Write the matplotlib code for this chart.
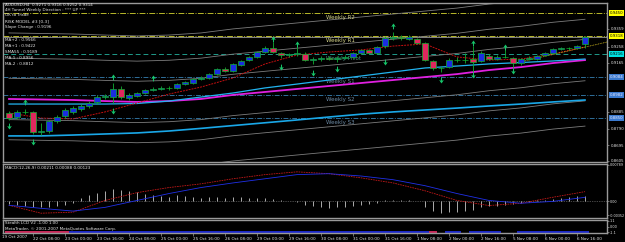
import matplotlib
matplotlib.use("Agg")
import matplotlib.pyplot as plt
import matplotlib.transforms as mtransforms
from matplotlib.path import Path

# ---------------- data ----------------
opens = [0.8879, 0.8856, 0.8885, 0.8882, 0.8770, 0.8776, 0.8833, 0.8862, 0.8885, 0.8902,
         0.8919, 0.8942, 0.8970, 0.8970, 0.9016, 0.8964, 0.8976, 0.8993, 0.9010, 0.9016,
         0.9022, 0.9022, 0.9044, 0.9050, 0.9073, 0.9079, 0.9101, 0.9130, 0.9119, 0.9153,
         0.9181, 0.9199, 0.9227, 0.9250, 0.9221, 0.9210, 0.9213, 0.9216, 0.9181, 0.9187,
         0.9193, 0.9190, 0.9193, 0.9199, 0.9221, 0.9239, 0.9221, 0.9261, 0.9307, 0.9310,
         0.9301, 0.9301, 0.9278, 0.9176, 0.9136, 0.9141, 0.9181, 0.9184, 0.9187, 0.9176,
         0.9204, 0.9187, 0.9199, 0.9193, 0.9164, 0.9187, 0.9187, 0.9210, 0.9221, 0.9244,
         0.9250, 0.9250, 0.9271]
highs = [0.8890, 0.8896, 0.8902, 0.8890, 0.8822, 0.8839, 0.8867, 0.8907, 0.8919, 0.8930,
         0.8947, 0.8982, 0.8987, 0.9050, 0.9033, 0.8993, 0.8999, 0.9016, 0.9027, 0.9033,
         0.9033, 0.9050, 0.9061, 0.9079, 0.9090, 0.9107, 0.9136, 0.9141, 0.9164, 0.9181,
         0.9204, 0.9233, 0.9261, 0.9284, 0.9227, 0.9221, 0.9267, 0.9227, 0.9199, 0.9204,
         0.9204, 0.9204, 0.9210, 0.9227, 0.9244, 0.9244, 0.9261, 0.9318, 0.9341, 0.9324,
         0.9324, 0.9307, 0.9284, 0.9181, 0.9147, 0.9193, 0.9199, 0.9221, 0.9261, 0.9233,
         0.9216, 0.9210, 0.9250, 0.9199, 0.9193, 0.9204, 0.9210, 0.9227, 0.9250, 0.9256,
         0.9256, 0.9267, 0.9316]
lows = [0.8839, 0.8845, 0.8873, 0.8759, 0.8753, 0.8765, 0.8822, 0.8850, 0.8873, 0.8890,
        0.8907, 0.8930, 0.8959, 0.8936, 0.8959, 0.8953, 0.8970, 0.8987, 0.9004, 0.9010,
        0.9010, 0.9016, 0.9039, 0.9044, 0.9067, 0.9073, 0.9096, 0.9113, 0.9113, 0.9147,
        0.9176, 0.9193, 0.9221, 0.9221, 0.9193, 0.9199, 0.9204, 0.9176, 0.9159, 0.9176,
        0.9181, 0.9170, 0.9187, 0.9193, 0.9216, 0.9216, 0.9216, 0.9250, 0.9296, 0.9296,
        0.9296, 0.9273, 0.9176, 0.9124, 0.9113, 0.9136, 0.9170, 0.9164, 0.9113, 0.9170,
        0.9181, 0.9181, 0.9193, 0.9136, 0.9153, 0.9181, 0.9181, 0.9204, 0.9216, 0.9239,
        0.9239, 0.9244, 0.9252]
closes = [0.8850, 0.8885, 0.8882, 0.8770, 0.8776, 0.8833, 0.8856, 0.8896, 0.8907, 0.8919,
          0.8936, 0.8970, 0.8976, 0.9016, 0.8970, 0.8982, 0.8993, 0.9010, 0.9016, 0.9022,
          0.9020, 0.9044, 0.9056, 0.9073, 0.9079, 0.9101, 0.9130, 0.9119, 0.9159, 0.9176,
          0.9199, 0.9227, 0.9250, 0.9227, 0.9210, 0.9213, 0.9221, 0.9181, 0.9187, 0.9193,
          0.9190, 0.9193, 0.9199, 0.9221, 0.9239, 0.9221, 0.9256, 0.9307, 0.9310, 0.9307,
          0.9313, 0.9278, 0.9181, 0.9136, 0.9138, 0.9181, 0.9184, 0.9181, 0.9170, 0.9221,
          0.9187, 0.9199, 0.9201, 0.9164, 0.9187, 0.9193, 0.9204, 0.9221, 0.9244, 0.9250,
          0.9248, 0.9261, 0.9314]

# moving averages sampled every 4 bars
ma_idx = [0, 4, 8, 12, 16, 20, 24, 28, 32, 36, 40, 44, 48, 52, 56, 60, 64, 68, 72]
ma_red = [0.8879, 0.8850, 0.8845, 0.8885, 0.8936, 0.8987, 0.9027, 0.9079, 0.9159, 0.9210,
          0.9227, 0.9239, 0.9261, 0.9273, 0.9199, 0.9181, 0.9187, 0.9216, 0.9256]
sma55 = [0.8959, 0.8956, 0.8953, 0.8947, 0.8942, 0.8947, 0.8959, 0.8982, 0.8999, 0.9016,
         0.9033, 0.9050, 0.9067, 0.9084, 0.9101, 0.9124, 0.9141, 0.9164, 0.9181]
ma_cyan = [0.8930, 0.8930, 0.8930, 0.8930, 0.8933, 0.8947, 0.8970, 0.8993, 0.9022, 0.9044,
           0.9067, 0.9090, 0.9113, 0.9136, 0.9147, 0.9159, 0.9167, 0.9176, 0.9187]
ma_lower = [0.8748, 0.8748, 0.8753, 0.8759, 0.8765, 0.8776, 0.8791, 0.8807, 0.8823, 0.8839,
            0.8856, 0.8872, 0.8885, 0.8896, 0.8907, 0.8919, 0.8930, 0.8942, 0.8953]
# envelope offsets around SMA55 (MA+2, MA+1, half bands, MA-1, MA-2)
env_offsets = [0.0377, 0.0233, 0.0118, -0.0118, -0.0233, -0.0377]

# weekly pivots
pivot_names = ["Weekly R2", "Weekly R1", "Weekly Pivot", "Weekly S1", "Weekly S2", "Weekly S3"]
pivot_values = [0.9450, 0.9318, 0.9216, 0.9084, 0.8982, 0.8850]
pivot_labels = ["0.9450", "0.9318", "0.9216", "0.9084", "0.8982", "0.8850"]

# fractal arrows
frac_up_idx = [2, 13, 18, 33, 36, 48, 58, 62]
frac_up_price = [0.8942, 0.9084, 0.9079, 0.9301, 0.9273, 0.9376, 0.9278, 0.9256]
frac_dn_idx = [0, 3, 13, 34, 38, 41, 47, 54, 58, 63]
frac_dn_price = [0.8805, 0.8713, 0.8890, 0.9141, 0.9107, 0.9130, 0.9170, 0.9067, 0.9096, 0.9119]

# trend line (anchor points)
trend_idx = [63.9, 74.75]
trend_price = [0.9170, 0.9284]

# price axis ticks
price_ticks = [0.9359, 0.9258, 0.9165, 0.8885, 0.8790, 0.8695, 0.8605]

# MACD
macd_main = [-0.00085, -0.00256, -0.00234, 0.0002, 0.0019, 0.0030, 0.0038, 0.0049, 0.0058, 0.0064,
             0.0060, 0.0051, 0.0040, 0.0023, 0.0002, -0.0009, -0.0004, 0.0009, 0.00211]
macd_signal = [-0.00085, -0.0015, -0.0021, -0.0013, 0.0002, 0.0017, 0.0030, 0.0040, 0.0049, 0.0058,
               0.0060, 0.0055, 0.0047, 0.0034, 0.0017, 0.0002, -0.0004, 0.0000, 0.00088]
macd_hist = [-0.0006, -0.0008, -0.0010, -0.0012, -0.0013, -0.0012, -0.0010, -0.0008, -0.0004,
             0.0008, 0.0014, 0.0019, 0.0023, 0.0027, 0.0024, 0.0023, 0.0020, 0.0016, 0.0014,
             0.0011, 0.0009, 0.0013, 0.0011, 0.0009,
             0.0008, 0.0009, 0.0010, 0.0008, 0.0009, 0.0009, 0.0008, 0.0008, 0.0008, 0.0005,
             0.0002, 0.0000,
             -0.0002, -0.0008, -0.0011, -0.0013, -0.0014, -0.0013, -0.0012, -0.0010, -0.0008,
             -0.0006, -0.0003,
             0.0002, 0.0003, 0.0003, 0.0002, 0.0000,
             -0.0012, -0.0020, -0.0025, -0.0024, -0.0023, -0.0021, -0.0019,
             -0.0013, -0.0011, -0.0009, -0.0007, -0.0006, -0.0003, -0.0001, 0.0002, 0.0004,
             0.0006, 0.0008, 0.0009, 0.0011, 0.00123]

# Stealth LCD state per bar
lcd_state = [-1] * 8 + [1] * 45 + [-1, 0, 1, 1, 0, 1, 1, 1, 1, 0, 0] + [1] * 9

# time axis
time_first = "19 Oct 2007"
time_labels = ["22 Oct 08:00", "23 Oct 00:00", "23 Oct 16:00", "24 Oct 08:00", "25 Oct 00:00",
               "25 Oct 16:00", "26 Oct 08:00", "29 Oct 00:00", "29 Oct 16:00", "30 Oct 08:00",
               "31 Oct 00:00", "31 Oct 16:00", "1 Nov 08:00", "2 Nov 00:00", "2 Nov 16:00",
               "5 Nov 08:00", "6 Nov 00:00", "6 Nov 16:00"]
time_idx = [3, 7, 11, 15, 19, 23, 27, 31, 35, 39, 43, 47, 51, 55, 59, 63, 67, 71]

info_lines = ["AUDUSD,H4  0.9271 0.9316 0.9252 0.9314",
              "4H Tunnel Weekly Direction : *** UP ***",
              "OK to Trade",
              "RISK MODEL #3 [0-3]",
              "Slope Change : 0.9196",
              "MA+2 : 0.9566",
              "MA+1 : 0.9422",
              "SMA55 : 0.9189",
              "MA-1 : 0.8956",
              "MA-2 : 0.8812"]

# ---------------- figure ----------------
W, H = 625, 242
fig = plt.figure(figsize=(6.25, 2.42), dpi=100, facecolor="black")


def box(x0, y0, x1, y1):
    return [x0 / W, 1 - y1 / H, (x1 - x0) / W, (y1 - y0) / H]


ax = fig.add_axes(box(3, 3, 607, 162))
axm = fig.add_axes(box(3, 164, 607, 218), sharex=ax)
axs = fig.add_axes(box(3, 220, 607, 233), sharex=ax)

FRAME = "#9a9a9a"
TXT = "#e6e6e6"
for a in (ax, axm, axs):
    a.set_facecolor("black")
    for s in a.spines.values():
        s.set_color(FRAME)
        s.set_linewidth(1.0)
    a.tick_params(axis="x", which="both", bottom=False, labelbottom=False)
    a.yaxis.tick_right()
    a.tick_params(axis="y", colors=FRAME, labelcolor=TXT, labelsize=2.8, length=1.5,
                  width=0.5, pad=1)

n = len(closes)
xs = list(range(n))
ax.set_xlim(-0.75, 74.75)
ax.set_ylim(0.8599, 0.9507)

# pivots
piv_colors = ["#b8b82a", "#b8b82a", "#1f9a8a", "#2f6f9a", "#2f6f9a", "#2f6f9a"]
piv_styles = [(0, (6, 1.5, 1, 1.5)), (0, (6, 1.5, 1, 1.5)), (0, (5, 3)),
              (0, (5, 1.5, 1, 1.5)), (0, (5, 1.5, 1, 1.5)), (0, (5, 1.5, 1, 1.5))]
piv_text_colors = ["#d6d68a", "#d6d68a", "#4e8c80", "#6c8aa4", "#6c8aa4", "#6c8aa4"]
for name, v, c, ls, tc in zip(pivot_names, pivot_values, piv_colors, piv_styles, piv_text_colors):
    ax.axhline(v, color=c, lw=0.7, ls=ls, zorder=1)
    ax.annotate(name, (39.6, v), xytext=(0, -1.2), textcoords="offset points",
                color=tc, fontsize=4.0, ha="left", va="top", zorder=2)

# bid line
ax.axhline(closes[-1], color="#9a9a9a", lw=0.6, zorder=1)

# SMA55 envelopes (gray)
for off in env_offsets:
    ax.plot(ma_idx, [v + off for v in sma55], color="#7c7c7c", lw=0.6, zorder=1)

# moving averages
ax.plot(ma_idx, ma_lower, color="#1aa8e8", lw=1.2, zorder=2)
ax.plot(ma_idx, sma55, color="#e020e0", lw=1.3, zorder=2)
ax.plot(ma_idx, ma_cyan, color="#22b4f0", lw=0.9, zorder=2)
ax.plot(ma_idx, ma_red, color="#c41010", lw=0.7, ls=(0, (2, 1)), zorder=3)
ax.plot(trend_idx, trend_price, color="#d8c020", lw=0.6, ls=(0, (1, 1)), zorder=3)

# candles
green = "#10b030"
ax.vlines(xs, lows, highs, color=green, lw=0.6, zorder=4)
body_col = ["#1a2ee0" if c >= o else "#e0285e" for o, c in zip(opens, closes)]
heights = [c - o for o, c in zip(opens, closes)]
ax.bar(xs, heights, bottom=opens, width=0.66, color=body_col, edgecolor=green,
       linewidth=0.5, zorder=5)

# fractal arrows (thin arrowheads with a stem)
up_verts = [(0, 1), (0.7, -0.1), (0.15, 0.3), (0.1, -1), (-0.1, -1), (-0.15, 0.3),
            (-0.7, -0.1), (0, 1)]
up_codes = [Path.MOVETO] + [Path.LINETO] * 6 + [Path.CLOSEPOLY]
up_marker = Path(up_verts, up_codes)
dn_marker = Path([(x, -y) for x, y in up_verts], up_codes)
ax.plot(frac_up_idx, frac_up_price, ls="none", marker=up_marker, ms=3.8,
        color="#18d070", mec="#18d070", mew=0.3, zorder=6)
ax.plot(frac_dn_idx, frac_dn_price, ls="none", marker=dn_marker, ms=3.8,
        color="#18d070", mec="#18d070", mew=0.3, zorder=6)

# price axis ticks and highlighted labels
ax.set_yticks(price_ticks)
ax.set_yticklabels([f"{v:.4f}" for v in price_ticks])
trans = mtransforms.blended_transform_factory(ax.transAxes, ax.transData)
box_bg = ["#ffff00", "#ffff00", "#00e0e0", "#3a7ad0", "#3a7ad0", "#3a7ad0"]
box_fg = ["#000000", "#000000", "#000000", "#e8e8ff", "#e8e8ff", "#e8e8ff"]
for lab, v, bg, fg in zip(pivot_labels, pivot_values, box_bg, box_fg):
    ax.text(1.004, v, lab, transform=trans, fontsize=2.8, color=fg, va="center", ha="left",
            bbox=dict(boxstyle="square,pad=0.2", fc=bg, ec="none"), clip_on=False, zorder=7)

# info text
info_y = [5, 10, 15, 21, 27, 40, 46, 52, 58, 64]
for t, yp in zip(info_lines, info_y):
    fig.text(5 / W, 1 - yp / H, t, color=TXT, fontsize=3.0, va="center", ha="left")

# ---------------- MACD ----------------
axm.set_ylim(-0.0036, 0.0081)
axm.axhline(0, color="#8a8a8a", lw=0.5, ls=(0, (1, 1.5)))
axm.vlines(xs, 0, macd_hist, color="#c8c8c8", lw=0.6)
axm.plot(ma_idx, macd_main, color="#c01818", lw=0.6, ls=(0, (2, 1)))
axm.plot(ma_idx, macd_signal, color="#2030e8", lw=0.6)
axm.set_yticks([0.0079, 0.0, -0.0030])
axm.set_yticklabels(["0.00789", "0.00", "-0.00352"])
axm.tick_params(axis="y", labelsize=2.4, pad=0.6)
axm.text(0.003, 0.92, "MACD(12,26,9) 0.00211 0.00088 0.00123", transform=axm.transAxes,
         color=TXT, fontsize=3.0, va="center", ha="left")

# ---------------- Stealth LCD ----------------
axs.set_ylim(-1.2, 1.2)
for i, st in enumerate(lcd_state):
    if st != 0:
        axs.plot([i - 0.5, i + 0.5], [-1.05, -1.05],
                 color="#2030f0" if st > 0 else "#f0306a", lw=1.2, solid_capstyle="butt")
axs.set_yticks([1.1, 0.0, -1.1])
axs.set_yticklabels(["1.1", "0.00", "-1.1"])
axs.tick_params(axis="y", labelsize=2.5, pad=0.5)
axs.text(0.003, 0.80, "Stealth LCD V2 -1.00 1.00", transform=axs.transAxes,
         color=TXT, fontsize=3.0, va="center", ha="left")
axs.text(0.003, 0.32, "MetaTrader, \u00a9 2001-2007 MetaQuotes Software Corp.",
         transform=axs.transAxes, color=TXT, fontsize=3.0, va="center", ha="left")

# time axis
axs.tick_params(axis="x", bottom=True, labelbottom=True, colors=FRAME, labelcolor=TXT,
                labelsize=3.0, length=2, width=0.5, pad=0.8)
axs.set_xticks(time_idx)
axs.set_xticklabels(time_labels, ha="left")
fig.text(2 / W, 1 - 237.5 / H, time_first, color=TXT, fontsize=3.0, va="center", ha="left")

fig.savefig("out.png", dpi=100, facecolor="black")
